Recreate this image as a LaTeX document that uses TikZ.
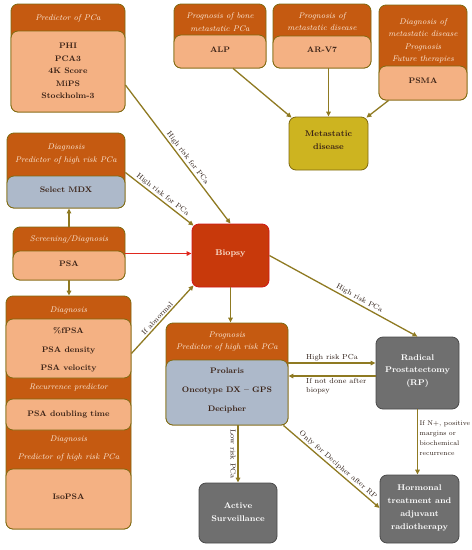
\documentclass[tikz,border=0pt]{standalone}
\usetikzlibrary{arrows.meta,fit,calc}
\definecolor{hdrc}{HTML}{C55A11}
\definecolor{peachc}{HTML}{F4B183}
\definecolor{bluec}{HTML}{ADB9CA}
\definecolor{bord}{HTML}{7F6A10}
\definecolor{arrc}{HTML}{8F7A22}
\definecolor{bioc}{HTML}{C8390B}
\definecolor{biob}{HTML}{D01818}
\definecolor{metc}{HTML}{CDB420}
\definecolor{grayc}{HTML}{6F6F6F}
\definecolor{grayb}{HTML}{4A4A4A}
\definecolor{hdrt}{HTML}{FDEADA}
\definecolor{bodyt}{HTML}{3A2216}
\definecolor{labt}{HTML}{2A1A12}
\definecolor{redarr}{HTML}{E0281E}
\begin{document}
\begin{tikzpicture}[x=1pt,y=-1pt,
 box/.style={rounded corners=7pt, draw=bord, line width=0.8pt, inner sep=0pt},
 hbox/.style={box, fill=hdrc},
 pbox/.style={box, fill=peachc},
 gbox/.style={box, fill=bluec},
 dbox/.style={box, fill=grayc, draw=grayb},
 htext/.style={text=hdrt, font=\fontsize{8.2}{12.5}\selectfont\itshape, align=center, inner sep=0pt},
 btext/.style={text=bodyt, font=\fontsize{8}{12.4}\selectfont\bfseries, align=center, inner sep=0pt},
 wtext/.style={text=white, font=\fontsize{8.3}{12.8}\selectfont\bfseries, align=center, inner sep=0pt},
 conn/.style={draw=arrc, line width=1.3pt, -{Triangle[length=5pt,width=4.5pt]}},
 lab/.style={text=labt, font=\fontsize{7.3}{9.5}\selectfont, inner sep=1.5pt},
]
\useasboundingbox (0,0) rectangle (472,550);

% ---------- Predictor of PCa
\node[hbox, fit={(11,4) (125,112)}] (pca) {};
\node[htext] (pcah) at (68,18) {Predictor of PCa};
\node[pbox, fit={(11,31) (125,112)}] (pcai) {};
\node[btext] (pcal) at (68,71) {PHI\\PCA3\\4K Score\\MiPS\\Stockholm-3};

% ---------- Select MDX
\node[hbox, fit={(7,133) (125,208)}] (mdx) {};
\node[htext] (mdxh) at (66,154) {Diagnosis\\Predictor of high risk PCa};
\node[gbox, fit={(7,176) (125,208)}] (mdxi) {};
\node[btext] (mdxl) at (66,190) {Select MDX};

% ---------- ALP
\node[hbox, fit={(174,4) (266,68)}] (alp) {};
\node[htext] (alph) at (220,22) {Prognosis of bone\\metastatic PCa};
\node[pbox, fit={(174,35) (266,68)}] (alpi) {};
\node[btext] (alpl) at (220,50) {ALP};

% ---------- AR-V7
\node[hbox, fit={(273,4) (371,68)}] (arv) {};
\node[htext] (arvh) at (322,21.5) {Prognosis of\\metastatic disease};
\node[pbox, fit={(273,36) (371,68)}] (arvi) {};
\node[btext] (arvl) at (322,50) {AR-V7};

% ---------- PSMA
\node[hbox, fit={(379,5) (467,100)}] (psma) {};
\node[htext] (psmah) at (423,41) {Diagnosis of\\metastatic disease\\Prognosis\\Future therapies};
\node[pbox, fit={(379,66) (467,100)}] (psmai) {};
\node[btext] (psmal) at (423,81) {PSMA};

% ---------- Metastatic disease
\node[box, fill=metc, fit={(289,117) (368,170)}] (met) {};
\node[btext, font=\fontsize{8.3}{13}\selectfont\bfseries] (metl) at (328.5,140) {Metastatic\\disease};

% ---------- PSA
\node[hbox, fit={(13,227) (125,280)}] (psa) {};
\node[htext] (psah) at (69,239) {Screening/Diagnosis};
\node[pbox, fit={(13,251) (125,280)}] (psai) {};
\node[btext] (psal) at (69,264) {PSA};

% ---------- big left box
\node[hbox, fit={(6,296) (131,529)}] (big) {};
\node[htext] (bigh1) at (68.5,311) {Diagnosis};
\node[pbox, fit={(6,319) (131,378)}] (bigi1) {};
\node[btext, font=\fontsize{8}{18.5}\selectfont\bfseries] (bigl1) at (68.5,350) {\%fPSA\\PSA density\\PSA velocity};
\node[htext] (bigh2) at (68.5,387) {Recurrence predictor};
\node[pbox, fit={(6,399) (131,430)}] (bigi2) {};
\node[btext] (bigl2) at (68.5,414) {PSA doubling time};
\node[htext, font=\fontsize{8.2}{18}\selectfont\itshape] (bigh3) at (68.5,449) {Diagnosis\\Predictor of high risk PCa};
\node[pbox, fit={(6,469) (131,529)}] (bigi3) {};
\node[btext] (bigl3) at (68.5,497) {IsoPSA};

% ---------- Biopsy
\node[box, fill=bioc, draw=biob, fit={(192,224) (269,287)}] (bio) {};
\node[wtext, text=hdrt] (biol) at (230.5,253) {Biopsy};

% ---------- Prognosis
\node[hbox, fit={(166,323) (288,425)}] (prog) {};
\node[htext] (progh) at (227,341.5) {Prognosis\\Predictor of high risk PCa};
\node[gbox, fit={(166,360) (288,425)}] (progi) {};
\node[btext, font=\fontsize{8}{19}\selectfont\bfseries] (progl) at (227,390) {Prolaris\\Oncotype DX -- GPS\\Decipher};

% ---------- RP
\node[dbox, fit={(376,337) (459,409)}] (rp) {};
\node[wtext] (rpl) at (417.5,371) {Radical\\Prostatectomy\\(RP)};

% ---------- Active Surveillance
\node[dbox, fit={(199,483) (277,543)}] (as) {};
\node[wtext] (asl) at (238,512) {Active\\Surveillance};

% ---------- Hormonal
\node[dbox, fit={(380,475) (459,543)}] (hor) {};
\node[wtext] (horl) at (419.5,508) {Hormonal\\treatment and\\adjuvant\\radiotherapy};

% ---------- connectors
\draw[conn] ([yshift=-27pt]pca.east) -- (bio.north)
  node[lab, sloped, above, pos=0.55] {High risk for PCa};
\draw[conn] ([yshift=-2pt]mdx.east) -- ([shift={(2pt,-2pt)}]bio.north west)
  node[lab, sloped, above, pos=0.5] {High risk for PCa};
\draw[conn, draw=redarr] (psa.east) -- (psa.east -| bio.west);
\draw[conn] (psa.north) -- (psa.north |- mdx.south);
\draw[conn] (psa.south) -- (psa.south |- big.north);
\draw[conn] ([yshift=59pt]big.east) -- ([shift={(2pt,2pt)}]bio.south west)
  node[lab, sloped, above, pos=0.47] {If abnormal};
\draw[conn] (bio.south) -- (bio.south |- prog.north);
\draw[conn] (bio.east) -- (rp.north)
  node[lab, sloped, above, pos=0.59] {High risk PCa};
\draw[conn] ([xshift=13pt]alp.south) -- ([shift={(3pt,-1pt)}]met.north west);
\draw[conn] (met.north |- arv.south) -- (met.north);
\draw[conn] ([xshift=10pt]psma.south west) -- ([shift={(-2pt,-1pt)}]met.north east);
\draw[conn] ([yshift=11pt]prog.east) -- ([yshift=11pt]prog.east -| rp.west)
  node[lab, above, pos=0.5] {High risk PCa};
\draw[conn] ([yshift=-3pt]rp.west) -- ([yshift=-3pt]rp.west -| prog.east)
  node[lab, align=left, anchor=north west, pos=0.82] {If not done after\\biopsy};
\draw[conn] (as.north |- prog.south) -- (as.north)
  node[lab, sloped, below, pos=0.5] {Low risk PCa};
\draw[conn] ([xshift=-5pt]prog.south east) -- ([yshift=1pt]hor.west)
  node[lab, sloped, above, pos=0.53] {Only for Decipher after RP};
\draw[conn] (rp.south) -- (rp.south |- hor.north)
  node[lab, align=left, anchor=west, pos=0.44, font=\fontsize{6.8}{10}\selectfont] {If N+, positive\\margins or\\biochemical\\recurrence};
\end{tikzpicture}
\end{document}
